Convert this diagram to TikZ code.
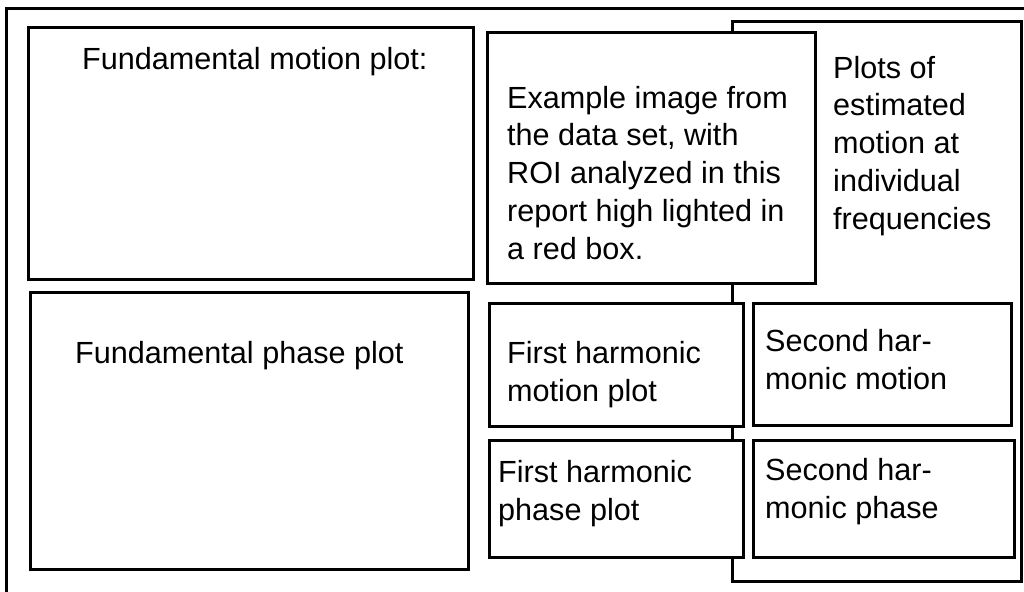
\documentclass[tikz,border=0pt]{standalone}
\usepackage{fontspec}
\setmainfont{Liberation Sans}
\tikzset{
  plotbox/.style={draw, line width=3pt, fill=white},
  lbl/.style={anchor=base west, inner sep=0pt, align=left,
              font=\fontsize{30.6}{37.7}\selectfont}
}
\begin{document}
\begin{tikzpicture}[x=1pt,y=-1pt]
    \useasboundingbox (0,0) rectangle (1024,591);
    \begin{scope}
      \clip (0,0) rectangle (1024,591);
      % outer frame runs off the page
      \draw[line width=3pt] (6,9) rectangle (1040,610);
      % frame behind the harmonic plots
      \draw[plotbox] (732,22)  rectangle (1021,581);
      \draw[plotbox] (28,28)   rectangle (473,279);
      \draw[plotbox] (487,33)  rectangle (815,283);
      \draw[plotbox] (30,292)  rectangle (468,569);
      \draw[plotbox] (489,303) rectangle (743,426);
      \draw[plotbox] (753,303) rectangle (1011,425);
      \draw[plotbox] (489,440) rectangle (743,557);
      \draw[plotbox] (753,440) rectangle (1014,557);
    \end{scope}
    % base anchor sits on the last line
    \node[lbl] (fundmotion) at (82,70)   {Fundamental motion plot:};
    \node[lbl] (fundphase)  at (75,363)  {Fundamental phase plot};
    \node[lbl] (example)    at (507,259) {Example image from\\the data set, with\\ROI analyzed in this\\report high lighted in\\a red box.};
    \node[lbl] (plotsof)    at (833,229) {Plots of\\estimated\\motion at\\individual\\frequencies};
    \node[lbl] (firstmotion)  at (507,401) {First harmonic\\motion plot};
    \node[lbl] (secondmotion) at (765,389) {Second har-\\monic motion};
    \node[lbl] (firstphase)   at (498,520) {First harmonic\\phase plot};
    \node[lbl] (secondphase)  at (765,518) {Second har-\\monic phase};
\end{tikzpicture}
\end{document}
